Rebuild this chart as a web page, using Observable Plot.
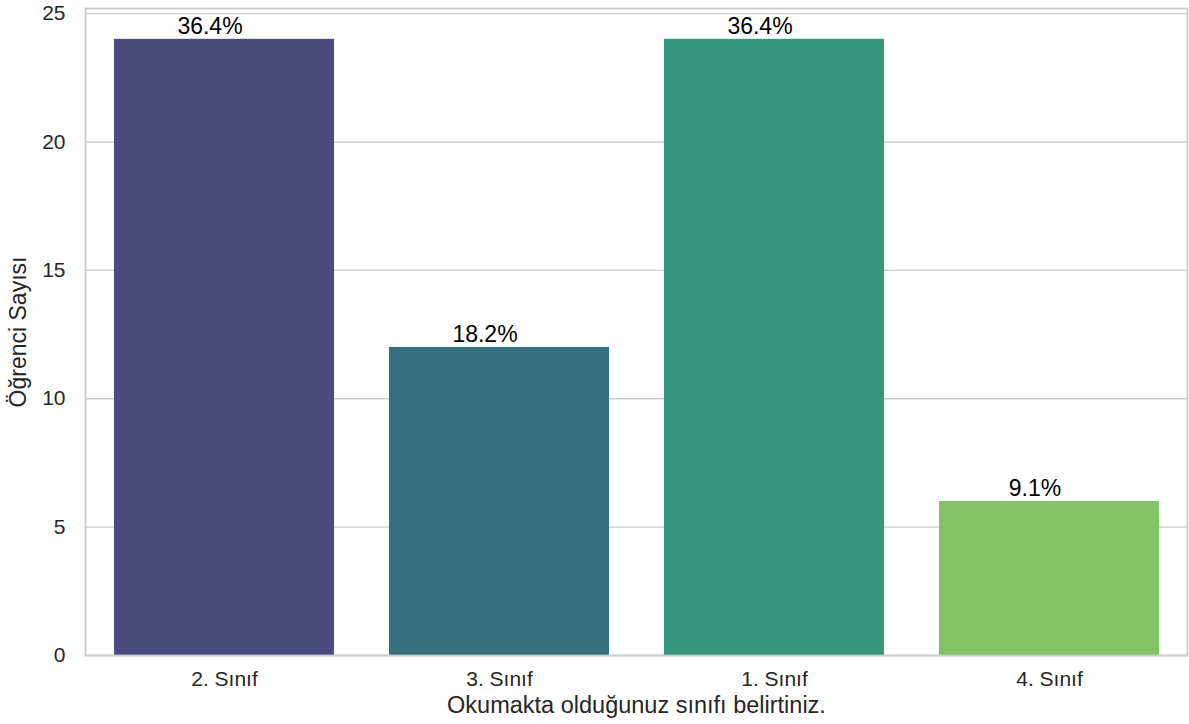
<!DOCTYPE html>
<html>
<head>
<meta charset="utf-8">
<script src="https://cdn.jsdelivr.net/npm/d3@7"></script>
<script src="https://cdn.jsdelivr.net/npm/@observablehq/plot@0.6"></script>
<style>
  html, body { margin: 0; padding: 0; background: #fff; }
  #chart { width: 1189px; height: 724px; }
</style>
</head>
<body>
<div id="chart"></div>
<script>
const categories = ["2. Sınıf", "3. Sınıf", "1. Sınıf", "4. Sınıf"];
const counts = [24, 12, 24, 6];
const percentLabels = ["36.4%", "18.2%", "36.4%", "9.1%"];
const barColors = ["#4a4c7d", "#37717f", "#35977b", "#80c463"];
const yTicks = [0, 5, 10, 15, 20, 25];
const xTitle = "Okumakta olduğunuz sınıfı belirtiniz.";
const yTitle = "Öğrenci Sayısı";

const data = categories.map((c, i) => ({cat: c, n: counts[i], label: percentLabels[i], color: barColors[i]}));
const font = "'Liberation Sans', Arial, sans-serif";

const chart = Plot.plot({
  width: 1189,
  height: 724,
  marginLeft: 85,
  marginRight: 2,
  marginTop: 8,
  marginBottom: 69,
  style: {fontFamily: font, color: "#262626", background: "#fff"},
  x: {domain: categories, paddingInner: 0.2, paddingOuter: 0.1},
  y: {domain: [0, 25.2]},
  marks: [
    Plot.ruleY(yTicks, {stroke: "#cccccc", strokeWidth: 1.4, strokeOpacity: 1}),
    Plot.barY(data, {x: "cat", y: "n", fill: "color"}),
    Plot.text(data, {x: "cat", y: "n", text: "label", lineAnchor: "bottom", dx: -14.5, dy: -5, fill: "#000", fontSize: 23}),
    Plot.frame({stroke: "#cccccc", strokeWidth: 1.8}),
    Plot.axisX({label: null, tickSize: 0, tickPadding: 16, fontSize: 21, fill: "#262626"}),
    Plot.axisY({ticks: yTicks, label: null, tickSize: 0, tickPadding: 20, fontSize: 21, fill: "#262626"}),
    Plot.text([xTitle], {frameAnchor: "bottom", text: d => d, dy: 50, fontSize: 23.5, fill: "#262626", lineAnchor: "middle", textAnchor: "middle"}),
    Plot.text([yTitle], {frameAnchor: "left", text: d => d, dx: -67, rotate: -90, fontSize: 23, fill: "#262626", lineAnchor: "middle", textAnchor: "middle"})
  ]
});
document.getElementById("chart").appendChild(chart);
</script>
</body>
</html>
